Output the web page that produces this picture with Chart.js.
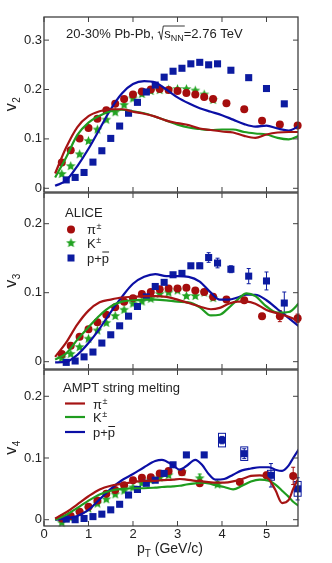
<!DOCTYPE html>
<html>
<head>
<meta charset="utf-8">
<title>v2, v3, v4 of identified hadrons</title>
<script src="https://cdn.jsdelivr.net/npm/chart.js@4.4.1/dist/chart.umd.min.js"></script>
<style>
  html, body { margin: 0; padding: 0; background: #fff; }
  canvas { position: absolute; left: 0; }
</style>
</head>
<body>
<canvas id="pv2" width="332" height="193" style="top:0px"></canvas>
<canvas id="pv3" width="332" height="178" style="top:192px"></canvas>
<canvas id="pv4" width="332" height="194" style="top:369px"></canvas>
<script>
// ---- ALICE data points ----
const piPt = [0.4, 0.6, 0.8, 1.0, 1.2, 1.4, 1.6, 1.8, 2.0, 2.2, 2.4, 2.6, 2.8, 3.0, 3.2, 3.4, 3.6, 3.8, 4.1, 4.5, 4.9, 5.3, 5.7]
const kaPt = [0.4, 0.6, 0.8, 1.0, 1.2, 1.4, 1.6, 1.8, 2.0, 2.2, 2.4, 2.6, 2.8, 3.0, 3.2, 3.4, 3.6, 3.8]
const prPt = [0.5, 0.7, 0.9, 1.1, 1.3, 1.5, 1.7, 1.9, 2.1, 2.3, 2.5, 2.7, 2.9, 3.1, 3.3, 3.5, 3.7, 3.9, 4.2, 4.6, 5.0, 5.4]

const piV2 = [0.052, 0.077, 0.101, 0.122, 0.141, 0.158, 0.171, 0.181, 0.190, 0.196, 0.200, 0.201, 0.199, 0.197, 0.193, 0.190, 0.185, 0.181, 0.172, 0.160, 0.137, 0.129, 0.127]
const kaV2 = [0.030, 0.046, 0.070, 0.097, 0.120, 0.140, 0.155, 0.170, 0.183, 0.192, 0.198, 0.200, 0.201, 0.202, 0.202, 0.199, 0.191, 0.180]
const prV2 = [0.017, 0.022, 0.032, 0.053, 0.076, 0.101, 0.126, 0.152, 0.174, 0.195, 0.209, 0.225, 0.237, 0.243, 0.252, 0.255, 0.250, 0.252, 0.239, 0.224, 0.202, 0.171]

const piV3 = [0.011, 0.023, 0.036, 0.047, 0.057, 0.068, 0.079, 0.087, 0.092, 0.098, 0.101, 0.105, 0.106, 0.106, 0.107, 0.103, 0.101, 0.094, 0.090, 0.089, 0.066, 0.066, 0.063]
const piErr3 = [0, 0, 0, 0, 0, 0, 0, 0, 0, 0, 0, 0, 0, 0, 0, 0, 0, 0, 0, 0.003, 0.004, 0.008, 0.006]
const kaV3 = [0.006, 0.012, 0.022, 0.034, 0.046, 0.057, 0.067, 0.076, 0.085, 0.088, 0.092, 0.099, 0.101, 0.104, 0.096, 0.096, 0.101, 0.093]
const prV3 = [-0.001, 0.001, 0.007, 0.014, 0.027, 0.039, 0.052, 0.066, 0.080, 0.094, 0.109, 0.115, 0.126, 0.128, 0.139, 0.139, 0.151, 0.143, 0.134, 0.124, 0.117, 0.085]
const prErr3 = [0, 0, 0, 0, 0, 0, 0, 0, 0, 0, 0, 0, 0, 0, 0, 0.004, 0.007, 0.007, 0.005, 0.011, 0.013, 0.016]

const piPt4 = [0.4, 0.6, 0.8, 1.0, 1.2, 1.4, 1.6, 1.8, 2.0, 2.2, 2.4, 2.6, 2.8, 3.1, 3.5, 4.4, 5.0, 5.6]
const piV4 = [0.002, 0.006, 0.013, 0.021, 0.031, 0.042, 0.048, 0.056, 0.064, 0.068, 0.069, 0.075, 0.079, 0.077, 0.059, 0.061, 0.072, 0.071]
const piErr4 = [0, 0, 0, 0, 0, 0, 0, 0, 0, 0, 0, 0, 0, 0, 0.004, 0.004, 0.005, 0.014]
const kaPt4 = [0.4, 0.6, 0.8, 1.0, 1.2, 1.4, 1.6, 1.8, 2.0, 2.2, 2.4, 2.6, 2.8, 3.1, 3.5, 3.9]
const kaV4 = [-0.004, 0.004, 0.012, 0.019, 0.027, 0.034, 0.042, 0.048, 0.053, 0.060, 0.065, 0.069, 0.073, 0.078, 0.068, 0.058]
const kaErr4 = [0, 0, 0, 0, 0, 0, 0, 0, 0, 0, 0, 0, 0, 0, 0.006, 0.004]
const prPt4 = [0.5, 0.7, 0.9, 1.1, 1.3, 1.5, 1.7, 1.9, 2.1, 2.3, 2.5, 2.7, 2.9, 3.2, 3.6, 4.0, 4.5, 5.1, 5.7]
const prV4 = [0.001, 0.0, 0.002, 0.005, 0.009, 0.016, 0.025, 0.040, 0.049, 0.059, 0.064, 0.075, 0.089, 0.105, 0.105, 0.129, 0.107, 0.072, 0.050]
const prErr4 = [0, 0, 0, 0, 0, 0, 0, 0, 0, 0, 0, 0, 0, 0.003, 0.004, 0.006, 0.008, 0.019, 0.018]
const prSys4 = [0, 0, 0, 0, 0, 0, 0, 0, 0, 0, 0, 0, 0, 0, 0, 0.011, 0.011, 0.008, 0.012]

// ---- AMPT string melting curves ----
const amptPt = [0.25, 0.5, 0.75, 1.0, 1.25, 1.5, 1.75, 2.0, 2.25, 2.5, 2.75, 3.0, 3.25, 3.5, 3.75, 4.0, 4.25, 4.5, 4.75, 5.0, 5.25, 5.5, 5.75]
const amptPiV2 = [0.030, 0.083, 0.124, 0.146, 0.156, 0.160, 0.160, 0.155, 0.151, 0.145, 0.137, 0.132, 0.128, 0.121, 0.118, 0.115, 0.113, 0.106, 0.102, 0.109, 0.113, 0.114, 0.114]
const amptKaV2 = [0.022, 0.063, 0.108, 0.133, 0.147, 0.156, 0.159, 0.156, 0.152, 0.145, 0.137, 0.129, 0.123, 0.120, 0.118, 0.119, 0.119, 0.114, 0.111, 0.109, 0.102, 0.099, 0.107]
const amptPrV2 = [0.005, 0.016, 0.045, 0.080, 0.120, 0.160, 0.192, 0.211, 0.217, 0.214, 0.200, 0.184, 0.172, 0.162, 0.155, 0.148, 0.139, 0.130, 0.125, 0.127, 0.121, 0.117, 0.127]

const amptPt3 = [0.25, 0.5, 0.75, 1.0, 1.25, 1.5, 1.75, 2.0, 2.25, 2.5, 2.75, 3.0, 3.25, 3.5, 3.75, 3.95, 4.15, 4.35, 4.55, 4.75, 5.0, 5.25, 5.5, 5.75]
const amptPiV3 = [0.007, 0.028, 0.054, 0.074, 0.086, 0.090, 0.093, 0.094, 0.095, 0.095, 0.094, 0.090, 0.085, 0.080, 0.076, 0.078, 0.084, 0.087, 0.087, 0.084, 0.075, 0.070, 0.065, 0.058]
const amptKaV3 = [0.003, 0.012, 0.032, 0.050, 0.067, 0.080, 0.087, 0.089, 0.090, 0.090, 0.089, 0.087, 0.086, 0.079, 0.067, 0.068, 0.078, 0.090, 0.099, 0.095, 0.080, 0.071, 0.072, 0.086]
const amptPrV3 = [-0.001, 0.0, 0.010, 0.027, 0.048, 0.072, 0.094, 0.113, 0.123, 0.127, 0.124, 0.124, 0.123, 0.116, 0.100, 0.090, 0.090, 0.093, 0.097, 0.097, 0.089, 0.076, 0.063, 0.050]

const amptPt4 = [0.25, 0.5, 0.75, 1.0, 1.25, 1.5, 1.75, 2.0, 2.25, 2.5, 2.65, 2.9, 3.05, 3.2, 3.4, 3.55, 3.7, 3.85, 4.05, 4.25, 4.45, 4.65, 4.85, 5.05, 5.2, 5.35, 5.5, 5.6, 5.75]
const amptPiV4 = [0.002, 0.012, 0.025, 0.038, 0.049, 0.055, 0.058, 0.061, 0.063, 0.063, 0.064, 0.065, 0.066, 0.065, 0.063, 0.062, 0.061, 0.060, 0.060, 0.062, 0.066, 0.071, 0.072, 0.066, 0.048, 0.027, 0.032, 0.050, 0.072]
const amptKaV4 = [0.0, 0.008, 0.019, 0.031, 0.041, 0.047, 0.050, 0.051, 0.051, 0.052, 0.053, 0.054, 0.055, 0.057, 0.059, 0.060, 0.059, 0.056, 0.053, 0.049, 0.055, 0.062, 0.065, 0.063, 0.057, 0.047, 0.037, 0.029, 0.021]
const amptPrV4 = [0.0, 0.002, 0.006, 0.016, 0.033, 0.050, 0.064, 0.074, 0.085, 0.095, 0.097, 0.088, 0.081, 0.087, 0.097, 0.089, 0.074, 0.065, 0.066, 0.073, 0.080, 0.083, 0.085, 0.085, 0.081, 0.079, 0.088, 0.100, 0.117]

// ---- axes ----
const xTickVals = [0, 1, 2, 3, 4, 5]
const v2Ticks = [0, 0.1, 0.2, 0.3]
const v3Ticks = [0, 0.1, 0.2]
const v4Ticks = [0, 0.1, 0.2]

const RED = '#a50d0d', GREEN = '#22a322', BLUE = '#0c1ba0'
const RED_L = '#a51414', GREEN_L = '#1f9c1f', BLUE_L = '#0b0fa5'
const FONT = "'Liberation Sans', Arial, sans-serif"

Chart.defaults.font.family = FONT
Chart.defaults.font.size = 13
Chart.defaults.color = '#222'

function makeStar(size, color) {
    const c = document.createElement('canvas')
    c.width = c.height = size
    const g = c.getContext('2d')
    const r = size / 2, ri = r * 0.42
    g.beginPath()
    for (let i = 0; i < 10; i++) {
        const rad = i % 2 ? ri : r - 0.3
        const a = -Math.PI / 2 + i * Math.PI / 5
        g.lineTo(r + rad * Math.cos(a), r + 0.6 + rad * Math.sin(a))
    }
    g.closePath()
    g.fillStyle = color
    g.fill()
    return c
}
const star = makeStar(11, GREEN)

const pts = (xs, ys) => xs.map((x, i) => ({x: x, y: ys[i]}))

function markers(xs, ys, color, style, radius, err, sys) {
    return {
        data: pts(xs, ys), showLine: false, pointStyle: style,
        pointRadius: radius, pointHoverRadius: radius,
        pointBackgroundColor: color, pointBorderWidth: 0,
        order: 2, clip: false, err: err, sys: sys, errColor: color
    }
}
function curve(xs, ys, color) {
    return {
        data: pts(xs, ys), showLine: true, borderColor: color, borderWidth: 2.2,
        pointRadius: 0, cubicInterpolationMode: 'monotone', fill: false, order: 1, clip: 0
    }
}

// error bars + systematic boxes, below the markers
const errorBars = {
    id: 'errorBars',
    beforeDatasetsDraw(chart) {
        const {ctx, scales: {x, y}} = chart
        ctx.save()
        chart.data.datasets.forEach(ds => {
            if (!ds.err && !ds.sys) return
            ctx.strokeStyle = ds.errColor
            ctx.lineWidth = 1
            ds.data.forEach((p, i) => {
                const px = x.getPixelForValue(p.x)
                const e = ds.err ? ds.err[i] : 0
                if (e) {
                    const y1 = y.getPixelForValue(p.y + e), y2 = y.getPixelForValue(p.y - e)
                    ctx.beginPath()
                    ctx.moveTo(px, y1); ctx.lineTo(px, y2)
                    ctx.moveTo(px - 2, y1); ctx.lineTo(px + 2, y1)
                    ctx.moveTo(px - 2, y2); ctx.lineTo(px + 2, y2)
                    ctx.stroke()
                }
                const s = ds.sys ? ds.sys[i] : 0
                if (s) {
                    const y1 = y.getPixelForValue(p.y + s), y2 = y.getPixelForValue(p.y - s)
                    ctx.strokeRect(px - 3.5, y1, 7, y2 - y1)
                }
            })
        })
        ctx.restore()
    }
}

function drawPM(ctx, base, x, y) {
    ctx.font = '13px ' + FONT
    ctx.fillText(base, x, y)
    const w = ctx.measureText(base).width
    ctx.font = '9px ' + FONT
    ctx.fillText('\u00b1', x + w + 0.5, y - 5)
}
function drawPPbar(ctx, x, y) {
    ctx.font = '13px ' + FONT
    ctx.fillText('p+p', x, y)
    const w1 = ctx.measureText('p+').width, w2 = ctx.measureText('p').width
    ctx.beginPath()
    ctx.moveTo(x + w1 + 0.5, y - 10.5)
    ctx.lineTo(x + w1 + w2, y - 10.5)
    ctx.lineWidth = 1
    ctx.stroke()
}

function frame(sub, extra) {
    return {
        id: 'frame' + sub,
        afterDraw(chart) {
            const {ctx, chartArea: a, scales: {x, y}} = chart
            ctx.save()
            ctx.strokeStyle = '#404040'
            ctx.lineWidth = 1.3
            ctx.strokeRect(a.left, a.top, a.right - a.left, a.bottom - a.top)
            ctx.lineWidth = 1
            ctx.beginPath()
            xTickVals.forEach(v => {
                const px = x.getPixelForValue(v)
                ctx.moveTo(px, a.bottom); ctx.lineTo(px, a.bottom - 5)
                ctx.moveTo(px, a.top); ctx.lineTo(px, a.top + 5)
            })
            y.ticks.forEach(t => {
                const py = y.getPixelForValue(t.value)
                ctx.moveTo(a.left, py); ctx.lineTo(a.left + 5, py)
                ctx.moveTo(a.right, py); ctx.lineTo(a.right - 5, py)
            })
            ctx.stroke()

            // y title v_n
            ctx.fillStyle = '#222'
            ctx.strokeStyle = '#222'
            ctx.translate(16, (a.top + a.bottom) / 2)
            ctx.rotate(-Math.PI / 2)
            ctx.font = '16px ' + FONT
            const w1 = ctx.measureText('v').width
            ctx.font = '10px ' + FONT
            const w2 = ctx.measureText(sub).width
            const sx = -(w1 + w2) / 2
            ctx.font = '16px ' + FONT
            ctx.fillText('v', sx, 0)
            ctx.font = '10px ' + FONT
            ctx.fillText(sub, sx + w1 + 0.5, 4)
            ctx.setTransform(1, 0, 0, 1, 0, 0)

            if (extra) extra(ctx, chart)
            ctx.restore()
        }
    }
}

function makeChart(id, cfg) {
    return new Chart(document.getElementById(id), {
        type: 'scatter',
        data: {datasets: cfg.datasets},
        plugins: [errorBars, frame(cfg.sub, cfg.extra)],
        options: {
            responsive: false,
            animation: false,
            devicePixelRatio: 1,
            layout: {autoPadding: false, padding: {left: 0, right: 34, top: cfg.padTop, bottom: cfg.padBottom}},
            plugins: {legend: {display: false}, tooltip: {enabled: false}},
            scales: {
                x: {
                    type: 'linear', min: 0, max: 5.708, display: cfg.showX,
                    afterBuildTicks: s => { s.ticks = xTickVals.map(v => ({value: v})) },
                    afterFit: s => {
                        s.height = cfg.showX ? 37 : 0
                        s.paddingLeft = 0; s.paddingRight = 0
                    },
                    grid: {display: false, drawTicks: false},
                    border: {display: false},
                    ticks: {padding: 1, maxRotation: 0, autoSkip: false, font: {size: 13}}
                },
                y: {
                    type: 'linear', min: cfg.yMin, max: cfg.yMax,
                    afterBuildTicks: s => { s.ticks = cfg.yTicks.map(v => ({value: v})) },
                    afterFit: s => {
                        s.width = 44
                        s.paddingTop = 0; s.paddingBottom = 0
                    },
                    grid: {display: false, drawTicks: false},
                    border: {display: false},
                    ticks: {
                        padding: 2, autoSkip: false, font: {size: 13},
                        callback: v => v === 0 ? '0' : v.toFixed(1)
                    }
                }
            }
        }
    })
}

// ---- v2 ----
makeChart('pv2', {
    sub: '2', yMin: -0.0075, yMax: 0.3468, yTicks: v2Ticks, padTop: 17, padBottom: 1, showX: false,
    datasets: [
        curve(amptPt, amptPiV2, RED_L),
        curve(amptPt, amptKaV2, GREEN_L),
        curve(amptPt, amptPrV2, BLUE_L),
        markers(prPt, prV2, BLUE, 'rect', 5),
        markers(piPt, piV2, RED, 'circle', 4),
        markers(kaPt, kaV2, GREEN, star, 5.5)
    ],
    extra: (ctx) => {
        let x = 66, y = 38
        ctx.fillStyle = '#222'
        ctx.font = '13px ' + FONT
        ctx.fillText('20-30% Pb-Pb, ', x, y)
        x += ctx.measureText('20-30% Pb-Pb, ').width
        // radical sign with overline
        ctx.lineWidth = 0.9
        ctx.beginPath()
        ctx.moveTo(x, y - 5); ctx.lineTo(x + 1.5, y - 6.5); ctx.lineTo(x + 3.5, y + 1.5); ctx.lineTo(x + 5.5, y - 12)
        x += 6.5
        ctx.font = '13px ' + FONT
        const ws = ctx.measureText('s').width
        ctx.font = '9px ' + FONT
        const wn = ctx.measureText('NN').width
        ctx.lineTo(x + ws + wn + 1, y - 12)
        ctx.stroke()
        ctx.font = '13px ' + FONT
        ctx.fillText('s', x, y)
        x += ws
        ctx.font = '9px ' + FONT
        ctx.fillText('NN', x, y + 3)
        x += wn
        ctx.font = '13px ' + FONT
        ctx.fillText('=2.76 TeV', x, y)
    }
})

// ---- v3 ----
makeChart('pv3', {
    sub: '3', yMin: -0.0106, yMax: 0.2445, yTicks: v3Ticks, padTop: 1, padBottom: 1, showX: false,
    datasets: [
        curve(amptPt3, amptPiV3, RED_L),
        curve(amptPt3, amptKaV3, GREEN_L),
        curve(amptPt3, amptPrV3, BLUE_L),
        markers(prPt, prV3, BLUE, 'rect', 5, prErr3),
        markers(piPt, piV3, RED, 'circle', 4, piErr3),
        markers(kaPt, kaV3, GREEN, star, 5.5)
    ],
    extra: (ctx) => {
        ctx.fillStyle = '#222'
        ctx.strokeStyle = '#222'
        ctx.font = '13px ' + FONT
        ctx.fillText('ALICE', 65, 25)
        // marker legend
        ctx.fillStyle = RED
        ctx.beginPath(); ctx.arc(71, 37.5, 4, 0, Math.PI * 2); ctx.fill()
        ctx.drawImage(star, 65.5, 45)
        ctx.fillStyle = BLUE
        ctx.fillRect(67.5, 62.5, 7, 7)
        ctx.fillStyle = '#222'
        drawPM(ctx, '\u03c0', 87, 42)
        drawPM(ctx, 'K', 87, 55.5)
        drawPPbar(ctx, 87, 70.5)
    }
})

// ---- v4 ----
makeChart('pv4', {
    sub: '4', yMin: -0.0102, yMax: 0.2426, yTicks: v4Ticks, padTop: 1, padBottom: 0, showX: true,
    datasets: [
        curve(amptPt4, amptPiV4, RED_L),
        curve(amptPt4, amptKaV4, GREEN_L),
        curve(amptPt4, amptPrV4, BLUE_L),
        markers(prPt4, prV4, BLUE, 'rect', 5, prErr4, prSys4),
        markers(piPt4, piV4, RED, 'circle', 4, piErr4),
        markers(kaPt4, kaV4, GREEN, star, 5.5, kaErr4)
    ],
    extra: (ctx, chart) => {
        ctx.fillStyle = '#222'
        ctx.strokeStyle = '#222'
        ctx.font = '13px ' + FONT
        ctx.fillText('AMPT string melting', 63, 23)
        const rows = [[RED_L, 34.5], [GREEN_L, 48], [BLUE_L, 63]]
        ctx.lineWidth = 2.2
        rows.forEach(r => {
            ctx.strokeStyle = r[0]
            ctx.beginPath(); ctx.moveTo(65, r[1]); ctx.lineTo(85, r[1]); ctx.stroke()
        })
        ctx.strokeStyle = '#222'
        drawPM(ctx, '\u03c0', 93, 39.5)
        drawPM(ctx, 'K', 93, 53)
        drawPPbar(ctx, 93, 68)

        // x title p_T (GeV/c)
        ctx.font = '14px ' + FONT
        const wp = ctx.measureText('p').width
        const wr = ctx.measureText(' (GeV/c)').width
        ctx.font = '10px ' + FONT
        const wt = ctx.measureText('T').width
        let x = 170 - (wp + wt + wr) / 2, y = 184
        ctx.font = '14px ' + FONT
        ctx.fillText('p', x, y)
        ctx.font = '10px ' + FONT
        ctx.fillText('T', x + wp, y + 4)
        ctx.font = '14px ' + FONT
        ctx.fillText(' (GeV/c)', x + wp + wt, y)
    }
})
</script>
</body>
</html>
